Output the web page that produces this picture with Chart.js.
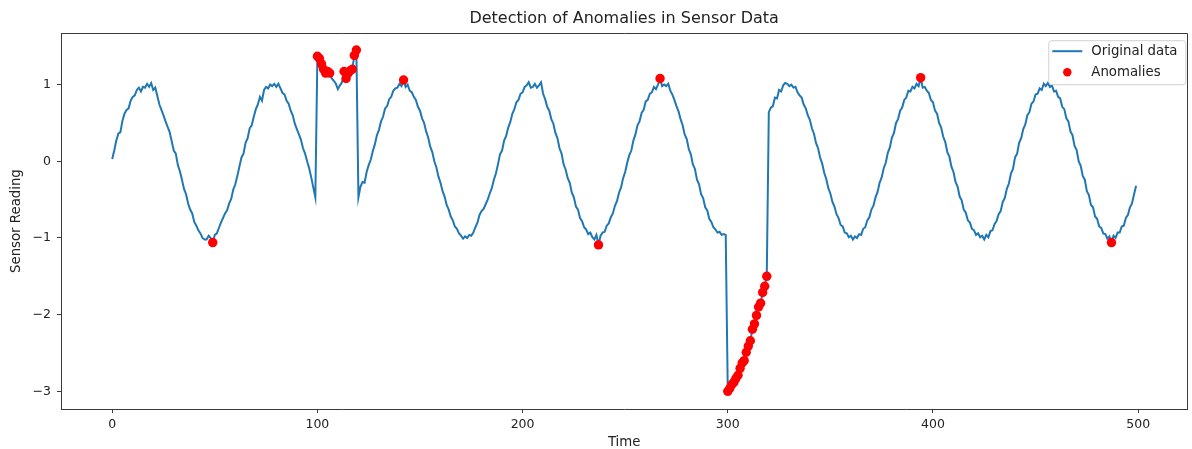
<!DOCTYPE html>
<html>
<head>
<meta charset="utf-8">
<title>Detection of Anomalies in Sensor Data</title>
<script src="https://cdn.jsdelivr.net/npm/chart.js@4.4.1/dist/chart.umd.min.js"></script>
<style>
  html, body { margin:0; padding:0; background:#fff; }
  #wrap { width:1192px; height:449px; }
</style>
</head>
<body>
<div id="wrap"><canvas id="cv" width="1192" height="449"></canvas></div>
<script>
/***** 데이터 *****/
// 센서 값 (t = 0..499), 그림에서 읽은 값
const readings = [
  0.03, 0.14, 0.27, 0.36, 0.38, 0.53, 0.62, 0.67, 0.69, 0.79,
  0.84, 0.86, 0.93, 0.96, 0.91, 0.97, 0.96, 1.01, 0.97, 1.02,
  0.93, 0.96, 0.85, 0.74, 0.67, 0.60, 0.52, 0.45, 0.38, 0.26,
  0.14, 0.10, -0.05, -0.13, -0.24, -0.36, -0.43, -0.55, -0.63, -0.68,
  -0.79, -0.84, -0.90, -0.94, -1.00, -1.02, -1.02, -0.97, -1.00, -1.06,
  -0.96, -0.94, -0.87, -0.80, -0.74, -0.68, -0.64, -0.55, -0.49, -0.37,
  -0.30, -0.19, -0.07, 0.05, 0.10, 0.24, 0.30, 0.43, 0.47, 0.58,
  0.68, 0.74, 0.84, 0.79, 0.93, 0.97, 0.95, 1.00, 0.98, 1.01,
  0.97, 1.01, 0.95, 0.89, 0.87, 0.79, 0.75, 0.66, 0.60, 0.49,
  0.42, 0.35, 0.28, 0.17, 0.10, 0.00, -0.09, -0.21, -0.34, -0.47,
  1.37, 1.34, 1.27, 1.20, 1.15, 1.17, 1.15, 1.08, 1.05, 1.01,
  0.94, 0.99, 1.03, 1.17, 1.08, 1.15, 1.18, 1.20, 1.38, 1.45,
  -0.47, -0.33, -0.27, -0.28, -0.14, -0.05, 0.02, 0.13, 0.22, 0.34,
  0.41, 0.52, 0.58, 0.69, 0.72, 0.81, 0.84, 0.92, 0.95, 0.96,
  1.01, 0.98, 1.06, 0.97, 1.00, 0.92, 0.90, 0.84, 0.80, 0.71,
  0.66, 0.56, 0.50, 0.39, 0.31, 0.19, 0.12, 0.00, -0.08, -0.20,
  -0.28, -0.39, -0.46, -0.57, -0.63, -0.72, -0.77, -0.85, -0.88, -0.94,
  -0.97, -1.01, -0.98, -1.00, -0.96, -0.97, -0.93, -0.86, -0.80, -0.70,
  -0.65, -0.62, -0.56, -0.50, -0.42, -0.35, -0.24, -0.16, -0.04, 0.09,
  0.14, 0.27, 0.33, 0.44, 0.51, 0.62, 0.68, 0.77, 0.80, 0.88,
  0.90, 0.97, 0.99, 1.03, 0.96, 0.97, 1.01, 0.96, 0.99, 1.03,
  0.88, 0.81, 0.71, 0.66, 0.55, 0.49, 0.37, 0.30, 0.17, 0.10,
  -0.04, -0.11, -0.22, -0.28, -0.41, -0.47, -0.59, -0.63, -0.74, -0.78,
  -0.86, -0.89, -0.95, -0.93, -0.99, -1.02, -0.96, -1.09, -0.97, -0.93,
  -0.92, -0.84, -0.81, -0.73, -0.68, -0.58, -0.52, -0.41, -0.34, -0.22,
  -0.14, -0.02, 0.08, 0.14, 0.27, 0.35, 0.47, 0.52, 0.63, 0.67,
  0.78, 0.80, 0.88, 0.90, 0.97, 0.94, 1.00, 1.08, 0.98, 1.00,
  0.98, 1.01, 0.92, 0.87, 0.80, 0.72, 0.65, 0.55, 0.47, 0.35,
  0.29, 0.16, 0.09, -0.04, -0.10, -0.24, -0.30, -0.43, -0.48, -0.60,
  -0.64, -0.75, -0.79, -0.86, -0.89, -0.93, -0.92, -0.96, -0.95, -0.96,
  -3.00, -2.96, -2.91, -2.88, -2.83, -2.79, -2.70, -2.63, -2.60, -2.49,
  -2.41, -2.34, -2.19, -2.12, -2.01, -1.90, -1.85, -1.71, -1.63, -1.50,
  0.64, 0.70, 0.72, 0.83, 0.82, 0.93, 0.91, 0.99, 1.02, 1.01,
  0.98, 1.00, 0.96, 0.97, 0.90, 0.86, 0.83, 0.74, 0.69, 0.60,
  0.54, 0.43, 0.36, 0.24, 0.17, 0.05, -0.03, -0.15, -0.23, -0.35,
  -0.42, -0.53, -0.59, -0.69, -0.74, -0.83, -0.85, -0.93, -0.94, -0.99,
  -0.97, -1.02, -0.98, -1.00, -0.95, -0.96, -0.88, -0.86, -0.77, -0.73,
  -0.63, -0.58, -0.47, -0.40, -0.28, -0.21, -0.09, -0.02, 0.11, 0.18,
  0.31, 0.37, 0.50, 0.55, 0.66, 0.70, 0.80, 0.83, 0.92, 0.91,
  0.97, 0.95, 1.01, 0.98, 1.09, 0.96, 0.97, 0.92, 0.89, 0.80,
  0.77, 0.66, 0.62, 0.50, 0.44, 0.32, 0.25, 0.12, 0.06, -0.07,
  -0.14, -0.27, -0.33, -0.46, -0.51, -0.63, -0.67, -0.77, -0.80, -0.88,
  -0.90, -0.96, -0.94, -0.99, -0.97, -1.02, -0.96, -0.99, -0.91, -0.90,
  -0.82, -0.78, -0.69, -0.65, -0.53, -0.48, -0.36, -0.29, -0.16, -0.10,
  0.05, 0.10, 0.24, 0.30, 0.42, 0.48, 0.60, 0.64, 0.75, 0.78,
  0.87, 0.88, 0.95, 0.93, 1.01, 0.98, 1.02, 0.97, 0.99, 0.91,
  0.92, 0.84, 0.82, 0.71, 0.68, 0.56, 0.52, 0.39, 0.34, 0.20,
  0.15, 0.00, -0.06, -0.19, -0.24, -0.39, -0.44, -0.57, -0.60, -0.72,
  -0.75, -0.85, -0.87, -0.94, -0.95, -1.01, -0.98, -1.06, -0.97, -1.00,
  -0.93, -0.93, -0.85, -0.84, -0.74, -0.70, -0.60, -0.55, -0.43, -0.32
];

// 이상치로 표시된 시점 (빨간 점)
const anomalyTimes = [
  49,
  100, 101, 102, 103, 104, 105, 106,
  113, 114, 115, 116, 117, 118, 119,
  142, 237, 267,
  300, 301, 302, 303, 304, 305, 306, 307, 308, 309,
  310, 311, 312, 313, 314, 315, 316, 317, 318, 319,
  394, 487
];

const xTicks = [0, 100, 200, 300, 400, 500];
const yTicks = [-3, -2, -1, 0, 1];

/***** 스타일 *****/
const LINE_COLOR = "#1f77b4";
const DOT_COLOR = "#ff0000";
const FONT = "'DejaVu Sans', sans-serif";
const TEXT_COLOR = "#222222";
const SPINE_COLOR = "#3a3a3a";
const DOT_R = 4.7;

const byId = (id) => document.getElementById(id);
const fmtTick = (v) => v < 0 ? "\u2212" + Math.abs(v) : String(v);

/***** 포인트 *****/
const linePoints = readings.map((v, t) => ({ x: t, y: v }));
const anomalyPoints = anomalyTimes.map(t => ({ x: t, y: readings[t] }));

/***** 플러그인: 위/오른쪽 테두리 + 범례 *****/
const frameAndLegend = {
  id: "frameAndLegend",
  afterDraw(chart){
    const { ctx, chartArea: a } = chart;
    const ds = chart.data.datasets;
    ctx.save();

    // 테두리 (matplotlib 스파인)
    ctx.strokeStyle = SPINE_COLOR;
    ctx.lineWidth = 1;
    ctx.beginPath();
    ctx.moveTo(Math.round(a.left), Math.round(a.top) + 0.5);
    ctx.lineTo(Math.round(a.right) + 0.5, Math.round(a.top) + 0.5);
    ctx.lineTo(Math.round(a.right) + 0.5, Math.round(a.bottom));
    ctx.stroke();

    // 범례 박스
    const bx = a.right - 139, by = a.top + 7, bw = 137, bh = 44;
    ctx.beginPath();
    ctx.roundRect(bx + 0.5, by + 0.5, bw, bh, 3);
    ctx.fillStyle = "rgba(255,255,255,0.8)";
    ctx.fill();
    ctx.strokeStyle = "#d0d0d0";
    ctx.stroke();

    ctx.font = "13.3px " + FONT;
    ctx.textBaseline = "middle";
    ctx.fillStyle = TEXT_COLOR;

    // 1행: 선
    const r1 = by + 11, r2 = by + 32;
    ctx.strokeStyle = ds[0].borderColor;
    ctx.lineWidth = 2;
    ctx.beginPath();
    ctx.moveTo(bx + 4, r1);
    ctx.lineTo(bx + 34, r1);
    ctx.stroke();
    ctx.fillText(ds[0].label, bx + 43, r1);

    // 2행: 점
    ctx.fillStyle = ds[1].pointBackgroundColor;
    ctx.beginPath();
    ctx.arc(bx + 19, r2, DOT_R - 0.5, 0, Math.PI * 2);
    ctx.fill();
    ctx.fillStyle = TEXT_COLOR;
    ctx.fillText(ds[1].label, bx + 43, r2);

    ctx.restore();
  }
};

/***** 차트 *****/
const axisCommon = {
  type: "linear",
  grid: { drawOnChartArea: false, drawTicks: true, tickLength: 4, color: SPINE_COLOR, tickWidth: 1 },
  border: { display: true, color: SPINE_COLOR, width: 1 }
};

new Chart(byId("cv"), {
  type: "line",
  data: {
    datasets: [
      {
        label: "Original data",
        data: linePoints,
        borderColor: LINE_COLOR,
        borderWidth: 2,
        pointRadius: 0,
        tension: 0,
        fill: false,
        order: 2
      },
      {
        type: "scatter",
        label: "Anomalies",
        data: anomalyPoints,
        showLine: false,
        pointRadius: DOT_R,
        pointBackgroundColor: DOT_COLOR,
        pointBorderColor: DOT_COLOR,
        pointBorderWidth: 0,
        order: 1
      }
    ]
  },
  options: {
    responsive: false,
    animation: false,
    devicePixelRatio: 1,
    layout: { padding: { left: 0, right: 4, top: 0, bottom: 0 } },
    scales: {
      x: {
        ...axisCommon,
        min: -24.95,
        max: 523.95,
        afterBuildTicks: (s) => { s.ticks = xTicks.map(v => ({ value: v })); },
        afterFit: (s) => { s.height = 40; },
        ticks: { padding: 4, color: TEXT_COLOR, font: { family: FONT, size: 12.5 }, maxRotation: 0 },
        title: { display: true, text: "Time", color: TEXT_COLOR, padding: { top: 0, bottom: 0 },
                 font: { family: FONT, size: 13.3, lineHeight: 1 } }
      },
      y: {
        ...axisCommon,
        min: -3.23,
        max: 1.67,
        afterBuildTicks: (s) => { s.ticks = yTicks.map(v => ({ value: v })); },
        afterFit: (s) => { s.width = 61; },
        ticks: { padding: 6, color: TEXT_COLOR, font: { family: FONT, size: 12.5 }, callback: fmtTick },
        title: { display: true, text: "Sensor Reading", color: TEXT_COLOR, padding: { top: 10, bottom: 0 },
                 font: { family: FONT, size: 13.3, lineHeight: 1 } }
      }
    },
    plugins: {
      legend: { display: false },
      tooltip: { enabled: false },
      title: {
        display: true,
        text: "Detection of Anomalies in Sensor Data",
        fullSize: false,
        color: TEXT_COLOR,
        padding: { top: 9, bottom: 5 },
        font: { family: FONT, size: 16, weight: "normal", lineHeight: 1.2 }
      }
    }
  },
  plugins: [frameAndLegend]
});
</script>
</body>
</html>
